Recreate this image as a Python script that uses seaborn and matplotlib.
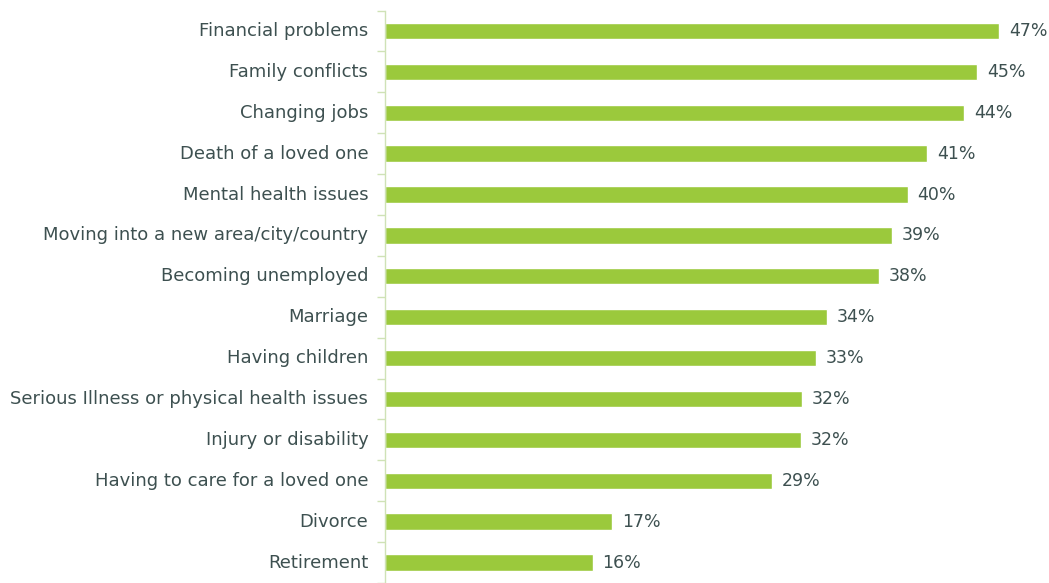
import matplotlib
matplotlib.use("Agg")
import matplotlib.pyplot as plt
import seaborn as sns
import pandas as pd
import numpy as np

# data
categories = [
    "Financial problems", "Family conflicts", "Changing jobs", "Death of a loved one",
    "Mental health issues", "Moving into a new area/city/country", "Becoming unemployed",
    "Marriage", "Having children", "Serious Illness or physical health issues",
    "Injury or disability", "Having to care for a loved one", "Divorce", "Retirement",
]
values = [47.0, 45.3, 44.3, 41.5, 40.0, 38.8, 37.8, 33.8, 33.0, 31.9, 31.8, 29.6, 17.4, 15.9]
value_labels = ["47%", "45%", "44%", "41%", "40%", "39%", "38%", "34%", "33%", "32%",
                "32%", "29%", "17%", "16%"]

df = pd.DataFrame({"category": categories, "value": values})

sns.set_style("white")
plt.rcParams["font.family"] = ["DejaVu Sans"]

text_color = "#3d5050"
bar_color = "#9bc93c"
line_color = "#cfe2b6"

fig = plt.figure(figsize=(10.49, 5.83), dpi=100)
ax = fig.add_axes([385 / 1049, 0.0, 1 - 385 / 1049, 1 - 10.5 / 583])

sns.barplot(data=df, y="category", x="value", color=bar_color, width=0.4,
            saturation=1, ax=ax, orient="h")

ax.set_xlim(0, 50.8)
ax.set_ylim(len(categories) - 0.5, -0.5)
ax.set_xlabel("")
ax.set_ylabel("")
ax.set_xticks([])

for i, (v, lab) in enumerate(zip(values, value_labels)):
    ax.annotate(lab, xy=(v, i), xytext=(7, 0), textcoords="offset points",
                va="center", ha="left", fontsize=12.5, color=text_color)

# tick marks sit between categories
ax.set_yticks(np.arange(-0.5, len(categories), 1), minor=True)
ax.tick_params(axis="y", which="major", length=0, pad=12, labelsize=13,
               labelcolor=text_color)
ax.tick_params(axis="y", which="minor", length=6, width=1, color=line_color, left=True)
for lab in ax.get_yticklabels():
    lab.set_verticalalignment("center")

for side in ["top", "right", "bottom"]:
    ax.spines[side].set_visible(False)
ax.spines["left"].set_color(line_color)
ax.spines["left"].set_linewidth(1)

fig.savefig("out.png", dpi=100)
